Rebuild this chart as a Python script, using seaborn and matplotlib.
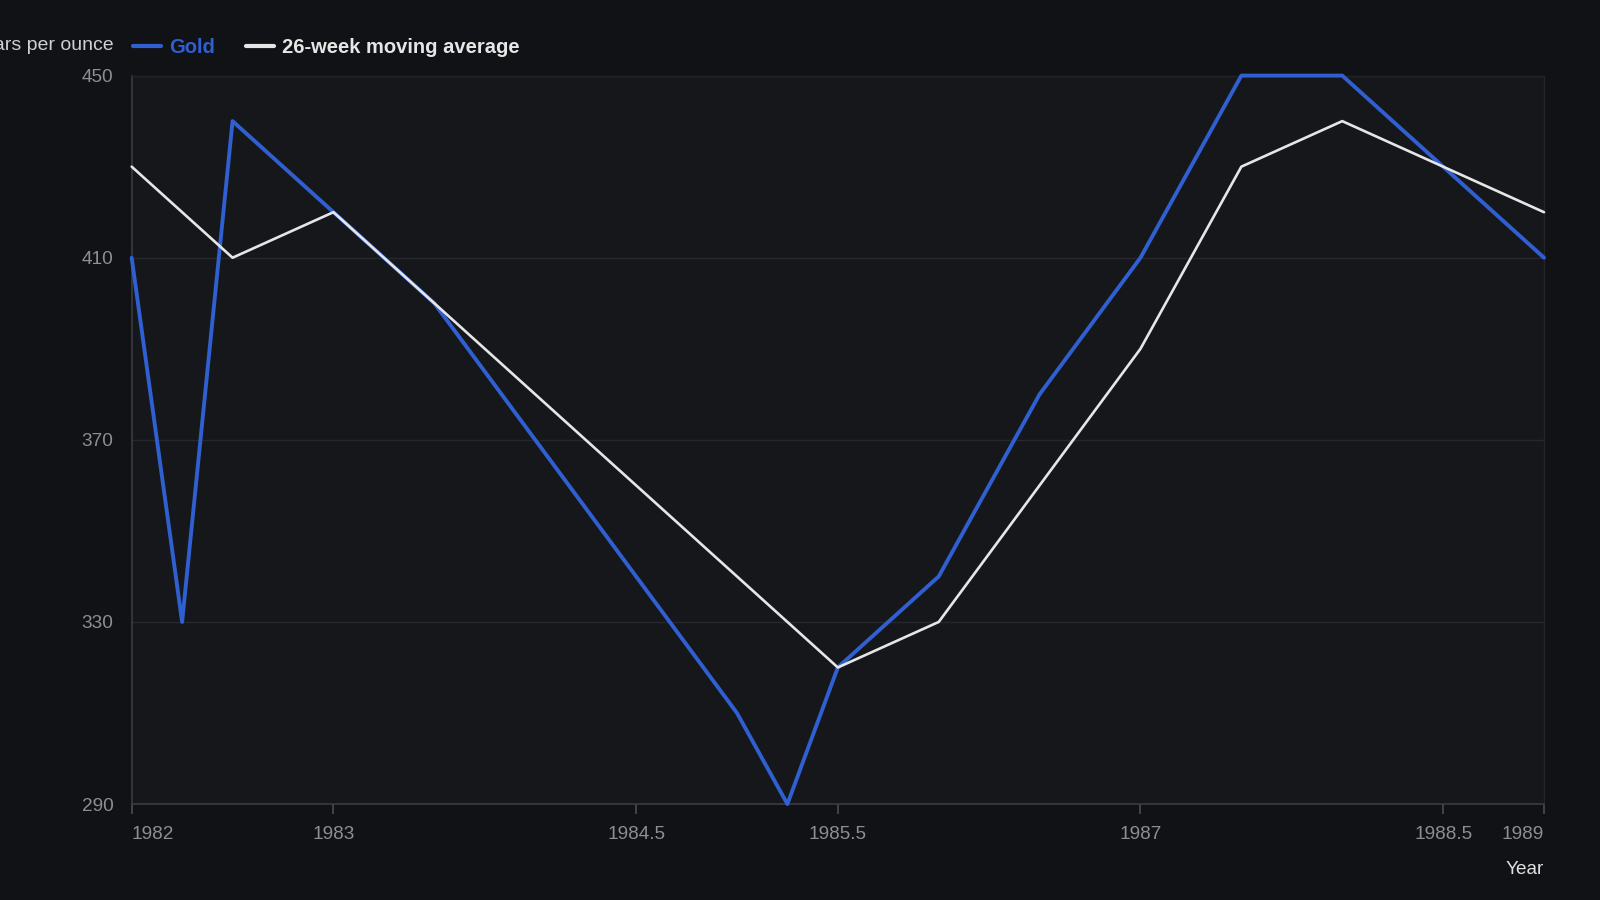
import pandas as pd
import matplotlib.pyplot as plt
import seaborn as sns

# Data (semi-annual points)
years = [1982, 1982.25, 1982.5, 1983, 1983.5, 1984, 1984.5, 1985, 1985.25,
         1985.5, 1986, 1986.5, 1987, 1987.5, 1988, 1988.5, 1989]
gold = [410, 330, 440, 420, 400, 370, 340, 310, 290,
        320, 340, 380, 410, 450, 450, 430, 410]

ma_years = [1982, 1982.5, 1983, 1983.5, 1984, 1984.5, 1985, 1985.5,
            1986, 1986.5, 1987, 1987.5, 1988, 1988.5, 1989]
moving_avg = [430, 410, 420, 400, 380, 360, 340, 320,
              330, 360, 390, 430, 440, 430, 420]

x_ticks = [1982, 1983, 1984.5, 1985.5, 1987, 1988.5, 1989]
x_tick_labels = ["1982", "1983", "1984.5", "1985.5", "1987", "1988.5", "1989"]
y_ticks = [290, 330, 370, 410, 450]

gold_df = pd.DataFrame({"Year": years, "Price": gold})
ma_df = pd.DataFrame({"Year": ma_years, "Price": moving_avg})

# Colours
bg_outer = "#111215"
bg_plot = "#16171b"
grid_col = "#25272b"
tick_col = "#8b8e94"
gold_col = "#2f5fd0"
ma_col = "#e6e6e6"

sns.set_theme(style="dark")
plt.rcParams["font.family"] = ["Liberation Sans", "DejaVu Sans"]

fig = plt.figure(figsize=(16, 9), dpi=100, facecolor=bg_outer)
ax = fig.add_axes([0.0823, 0.1066, 0.9650 - 0.0823, 0.916 - 0.1066])
ax.set_facecolor(bg_plot)

sns.lineplot(data=gold_df, x="Year", y="Price", ax=ax, color=gold_col,
             linewidth=2.8, label="Gold", clip_on=False, zorder=3)
sns.lineplot(data=ma_df, x="Year", y="Price", ax=ax, color=ma_col,
             linewidth=1.9, label="26-week moving average", clip_on=False,
             zorder=4)

ax.set_xlim(1982, 1989)
ax.set_ylim(290, 450)
ax.set_xticks(x_ticks)
ax.set_xticklabels(x_tick_labels)
ax.set_yticks(y_ticks)

ax.grid(axis="y", color=grid_col, linewidth=1)
ax.grid(axis="x", visible=False)

for side in ["top", "right"]:
    ax.spines[side].set_color("#222428")
    ax.spines[side].set_linewidth(1)
for side in ["left", "bottom"]:
    ax.spines[side].set_color("#3a3c41")
    ax.spines[side].set_linewidth(1.2)

ax.tick_params(axis="x", colors="#4a4c51", length=7, width=1.2, pad=9,
               labelsize=13.7, labelcolor=tick_col, bottom=True)
ax.tick_params(axis="y", length=0, pad=13, labelsize=13.7, labelcolor=tick_col)

xlabels = ax.get_xticklabels()
xlabels[0].set_ha("left")
xlabels[-1].set_ha("right")

ax.set_ylabel("")
ax.set_xlabel("Year", loc="right", color="#e0e0e0", fontsize=13.7, labelpad=13)

# Axis title at top-left, partly cut off as in the reference
fig.text(0.0708, 0.950, "Dollars per ounce", ha="right", va="center",
         color="#d0d0d0", fontsize=14)

leg = ax.legend(loc="center left", bbox_to_anchor=(-0.012, 1.039), ncol=2,
                frameon=False, handlelength=1.4, handletextpad=0.42,
                columnspacing=1.5, prop={"weight": "bold", "size": 14.5})
for txt, col in zip(leg.get_texts(), [gold_col, ma_col]):
    txt.set_color(col)
for line in leg.get_lines():
    line.set_linewidth(3)

fig.savefig("out.png", dpi=100, facecolor=bg_outer)
